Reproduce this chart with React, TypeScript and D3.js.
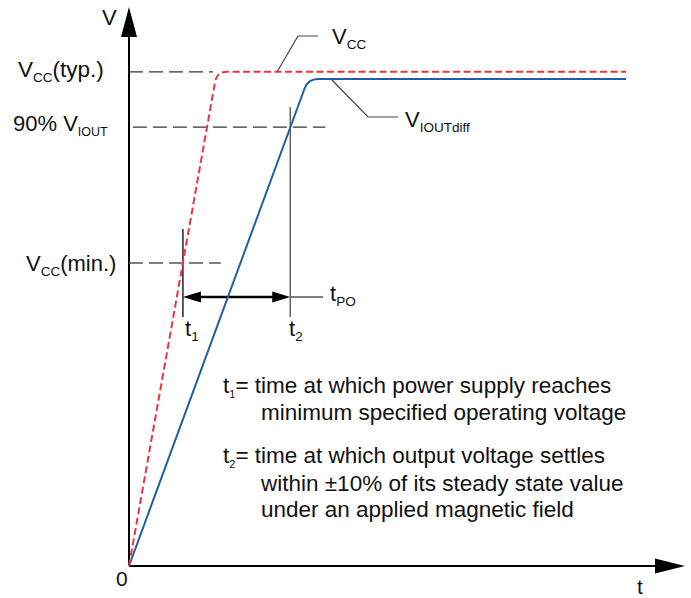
import React from "react";
import * as d3 from "d3";

// ---- data (abstract units: time 0..100, voltage 0..100) ----
const vccTime = [0, 15.8, 89.4];
const vccVolt = [0, 88.4, 88.4];
const voutTime = [0, 32.2, 89.4];
const voutVolt = [0, 87.1, 87.1];

const levelValues = [88.4, 78.5, 54.2]; // Vcc(typ.), 90% VIOUT, Vcc(min.)
const levelStart = [0, 0.7, 0];
const levelEnd = [15.1, 35.3, 16.5];

const t1 = 9.7;
const t2 = 29.0;
const tpoLevel = 48.1;

const W = 691;
const H = 598;

const x = d3.scaleLinear().domain([0, 100]).range([129, 685]);
const y = d3.scaleLinear().domain([0, 100]).range([566, 7]);

const FONT = "'Liberation Sans', Arial, Helvetica, sans-serif";

function roundedPath(ts: number[], vs: number[], r: number) {
  const pts = ts.map((t, i) => [x(t), y(vs[i])] as [number, number]);
  const p = d3.path();
  p.moveTo(pts[0][0], pts[0][1]);
  for (let i = 1; i < pts.length - 1; i++) {
    const [ax, ay] = pts[i - 1];
    const [bx, by] = pts[i];
    const [cx, cy] = pts[i + 1];
    const d1 = Math.hypot(bx - ax, by - ay);
    const d2 = Math.hypot(cx - bx, cy - by);
    const s1x = bx - ((bx - ax) / d1) * r;
    const s1y = by - ((by - ay) / d1) * r;
    const s2x = bx + ((cx - bx) / d2) * r;
    const s2y = by + ((cy - by) / d2) * r;
    p.lineTo(s1x, s1y);
    p.quadraticCurveTo(bx, by, s2x, s2y);
  }
  const last = pts[pts.length - 1];
  p.lineTo(last[0], last[1]);
  return p.toString();
}

type Part = [string, boolean?];
function Label({ px, py, parts, size = 22, sub = 13.5 }: { px: number; py: number; parts: Part[]; size?: number; sub?: number }) {
  const spans: React.ReactNode[] = [];
  let down = false;
  parts.forEach(([txt, isSub], i) => {
    let dy = 0;
    if (isSub && !down) { dy = 5; down = true; }
    else if (!isSub && down) { dy = -5; down = false; }
    spans.push(
      <tspan key={i} dy={dy} fontSize={isSub ? sub : size}>{txt}</tspan>
    );
  });
  return (
    <text x={px} y={py} fontFamily={FONT} fontSize={size} fill="#111">{spans}</text>
  );
}

export default function App() {
  const gray = "#444";
  const arrowY = y(tpoLevel);
  const ah = 18, aw = 5.5;
  return (
    <svg width={W} height={H} style={{ position: "absolute", left: 0, top: 0, background: "#fff" }}>
      {/* axes */}
      <line x1={x(0)} y1={y(0)} x2={x(0)} y2={y(0) - 530} stroke="#000" strokeWidth={2} />
      <path d={`M${x(0) - 8},${37} L${x(0)},${7} L${x(0) + 8},${37} Z`} fill="#000" />
      <line x1={x(0)} y1={y(0)} x2={655} y2={y(0)} stroke="#000" strokeWidth={2} />
      <path d={`M655,${y(0) - 7.5} L685,${y(0)} L655,${y(0) + 7.5} Z`} fill="#000" />
      <text x={102} y={25} fontFamily={FONT} fontSize={22} fill="#111">V</text>
      <text x={116} y={586} fontFamily={FONT} fontSize={21} fill="#111">0</text>
      <text x={637} y={594} fontFamily={FONT} fontSize={21} fill="#111">t</text>

      {/* level dashed lines */}
      <line x1={x(levelStart[0])} x2={x(levelEnd[0])} y1={y(levelValues[0])} y2={y(levelValues[0])} stroke="#333" strokeWidth={1.3} strokeDasharray="14 6" />
      <line x1={x(levelStart[1])} x2={x(levelEnd[1])} y1={y(levelValues[1])} y2={y(levelValues[1])} stroke="#333" strokeWidth={1.3} strokeDasharray="14 6" />
      <line x1={x(levelStart[2])} x2={x(levelEnd[2])} y1={y(levelValues[2])} y2={y(levelValues[2])} stroke="#555" strokeWidth={1.3} strokeDasharray="14 6" />

      <Label px={18} py={77} parts={[["V"], ["CC", true], ["(typ.)"]]} size={22.5} />
      <Label px={13} py={131} parts={[["90% V"], ["IOUT", true]]} sub={12.5} />
      <Label px={26} py={271} parts={[["V"], ["CC", true], ["(min.)"]]} />

      {/* t1 / t2 markers */}
      <line x1={x(t1)} x2={x(t1)} y1={229} y2={317} stroke="#222" strokeWidth={1.5} />
      <line x1={x(t2)} x2={x(t2)} y1={107} y2={317} stroke="#666" strokeWidth={1.5} />
      <line x1={x(t2)} x2={323} y1={arrowY} y2={arrowY} stroke="#555" strokeWidth={1.5} />
      <line x1={x(t1) + ah - 2} x2={x(t2) - ah + 2} y1={arrowY} y2={arrowY} stroke="#000" strokeWidth={2.5} />
      <path d={`M${x(t1)},${arrowY} L${x(t1) + ah},${arrowY - aw} L${x(t1) + ah},${arrowY + aw} Z`} fill="#000" />
      <path d={`M${x(t2)},${arrowY} L${x(t2) - ah},${arrowY - aw} L${x(t2) - ah},${arrowY + aw} Z`} fill="#000" />

      <Label px={185} py={336} parts={[["t"], ["1", true]]} />
      <Label px={289} py={336} parts={[["t"], ["2", true]]} />
      <Label px={330} py={301} parts={[["t"], ["PO", true]]} />

      {/* signals */}
      <path d={roundedPath(voutTime, voutVolt, 10)} fill="none" stroke="#1f5ea8" strokeWidth={2} />
      <path d={roundedPath(vccTime, vccVolt, 10)} fill="none" stroke="#ef3340" strokeWidth={2} strokeDasharray="7 3.5" />

      {/* leaders */}
      <polyline points={`277,72 298,36 318,36`} fill="none" stroke={gray} strokeWidth={1.2} />
      <Label px={332} py={44} parts={[["V"], ["CC", true]]} />
      <polyline points={`332,80 368,117 398,117`} fill="none" stroke={gray} strokeWidth={1.2} />
      <Label px={405} py={127} parts={[["V"], ["IOUTdiff", true]]} />

      {/* notes */}
      <Label px={223} py={393} parts={[["t"], ["1", true], ["= time at which power supply reaches"]]} size={22.5} sub={11} />
      <Label px={261} py={420} parts={[["minimum specified operating voltage"]]} size={22.5} />
      <Label px={223} py={463} parts={[["t"], ["2", true], ["= time at which output voltage settles"]]} size={22.5} sub={11} />
      <Label px={261} py={491} parts={[["within ±10% of its steady state value"]]} size={22.5} />
      <Label px={261} py={517} parts={[["under an applied magnetic field"]]} size={22.5} />
    </svg>
  );
}
